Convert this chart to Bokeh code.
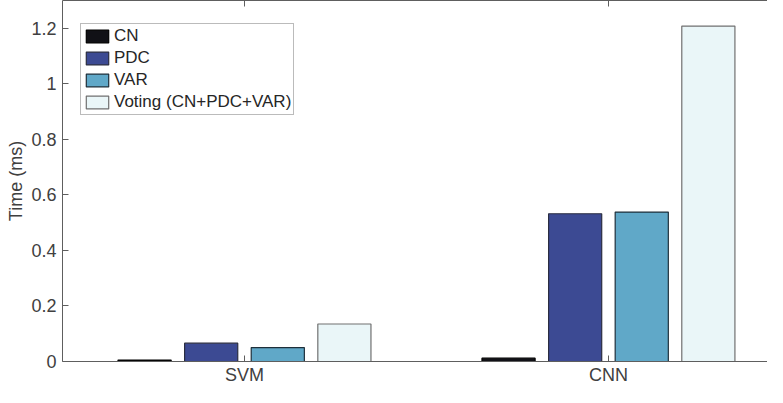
from bokeh.plotting import figure
from bokeh.models import (ColumnDataSource, FixedTicker, LinearAxis, Legend,
                          LegendItem, CustomJSTickFormatter, Range1d)
from bokeh.transform import dodge
from bokeh.embed import file_html
from bokeh.resources import INLINE

# ---- data ----
categories = ["SVM", "CNN"]
series_names = ["CN", "PDC", "VAR", "Voting (CN+PDC+VAR)"]
cn = [0.005, 0.012]
pdc = [0.066, 0.532]
var = [0.050, 0.538]
voting = [0.135, 1.208]
y_ticks = [0, 0.2, 0.4, 0.6, 0.8, 1, 1.2]

# ---- styles ----
fills = ["#111116", "#3c4a93", "#60a8c8", "#eaf6f8"]
edges = ["#000000", "#2a2d40", "#1e2f3a", "#707070"]
offsets = [-0.2745, -0.0915, 0.0915, 0.2745]
bar_w = 0.146
FONT = "Liberation Sans"
AX = "#5e5e5e"
TXT = "#404040"

x_pos = list(range(1, len(categories) + 1))
source = ColumnDataSource(dict(x=x_pos, cn=cn, pdc=pdc, var=var, voting=voting))
cols = ["cn", "pdc", "var", "voting"]

p = figure(width=767, height=387, x_range=Range1d(0.5, 2.437), y_range=Range1d(0, 1.3),
           output_backend="svg", toolbar_location=None,
           min_border_left=62, min_border_right=0, min_border_top=0, min_border_bottom=0)
p.outline_line_color = None
p.xgrid.visible = False
p.ygrid.visible = False
p.background_fill_color = "white"
p.border_fill_color = "white"

items = []
for name, col, off, fc, ec in zip(series_names, cols, offsets, fills, edges):
    r = p.vbar(x=dodge("x", off, range=p.x_range), top=col, width=bar_w, bottom=0,
               source=source, fill_color=fc, line_color=ec, line_width=1.2)
    items.append(LegendItem(label=name, renderers=[r]))

# x axis
xa = p.xaxis[0]
xa.ticker = FixedTicker(ticks=x_pos)
xa.major_label_overrides = {x: c for x, c in zip(x_pos, categories)}
xa.major_tick_in = 6
xa.major_tick_out = 0
xa.minor_tick_line_color = None
xa.axis_line_color = AX
xa.major_tick_line_color = AX
xa.major_label_text_font = FONT
xa.major_label_text_font_size = "18px"
xa.major_label_text_color = TXT
xa.major_label_standoff = 3

# y axis
ya = p.yaxis[0]
ya.ticker = FixedTicker(ticks=y_ticks)
ya.formatter = CustomJSTickFormatter(code="return String(Math.round(tick*10)/10)")
ya.major_tick_in = 6
ya.major_tick_out = 0
ya.minor_tick_line_color = None
ya.axis_line_color = AX
ya.major_tick_line_color = AX
ya.major_label_text_font = FONT
ya.major_label_text_font_size = "18px"
ya.major_label_text_color = TXT
ya.major_label_standoff = 6
ya.axis_label = "Time (ms)"
ya.axis_label_text_font = FONT
ya.axis_label_text_font_size = "18px"
ya.axis_label_text_font_style = "normal"
ya.axis_label_text_color = TXT
ya.axis_label_standoff = 2

# top border with inward ticks
top = LinearAxis(ticker=FixedTicker(ticks=x_pos), major_tick_in=6, major_tick_out=0,
                 minor_tick_line_color=None, axis_line_color=AX, major_tick_line_color=AX,
                 major_label_text_font_size="0px", major_label_standoff=0)
top.major_label_overrides = {x: "" for x in x_pos}
p.add_layout(top, "above")

legend = Legend(items=items, location=(18, 246), margin=0, padding=2, spacing=2,
                glyph_width=28, glyph_height=16, label_height=19, label_standoff=3,
                label_text_font=FONT, label_text_font_size="17px", label_text_color="#262626",
                border_line_color="#777777", border_line_width=1,
                background_fill_color="white", background_fill_alpha=1)
p.add_layout(legend)

open("out.html", "w").write(file_html(p, INLINE))
